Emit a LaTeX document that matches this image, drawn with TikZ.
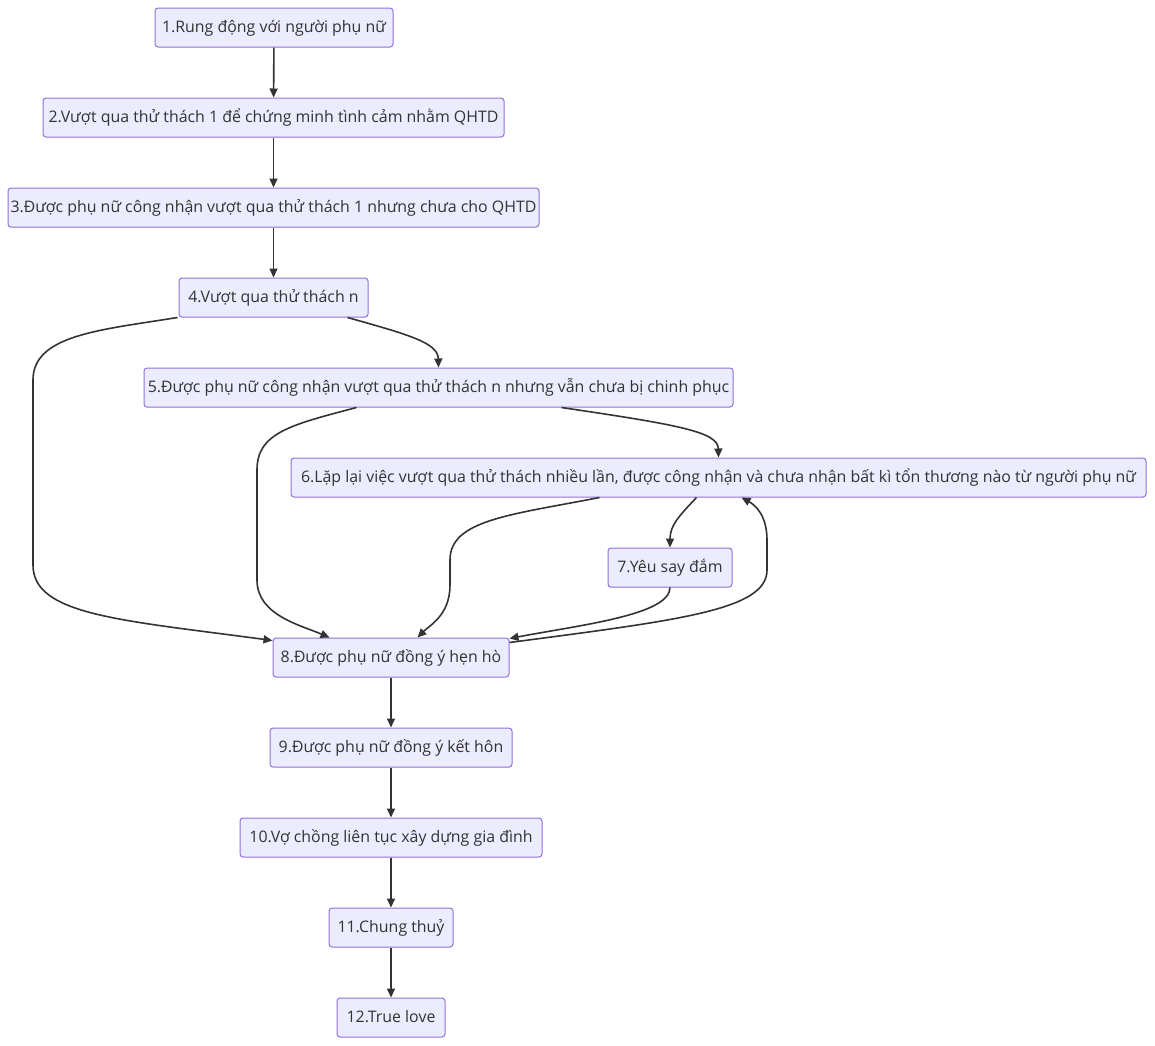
\documentclass[tikz,border=0pt]{standalone}
\usepackage{fontspec}
\setmainfont{Open Sans}
\usetikzlibrary{arrows.meta}
\definecolor{nodefill}{HTML}{ECECFF}
\definecolor{nodeline}{HTML}{9370DB}
\definecolor{edgecol}{HTML}{333333}
\tikzset{
  box/.style={draw=nodeline, fill=nodefill, line width=1pt, rounded corners=3pt,
    minimum height=39pt, inner sep=0pt, text height=13pt, text depth=3pt,
    font=\fontsize{15.9}{18}\selectfont, text=edgecol},
  edge/.style={draw=edgecol, line width=1.6pt, -{Triangle[length=9pt,width=8pt]}},
}
\begin{document}
\begin{tikzpicture}[x=1pt,y=-1pt]
\useasboundingbox[fill=white] (0,0) rectangle (1155,1045);
\node[box, minimum width=238pt] (n1) at (274,27.5) {1.Rung động với người phụ nữ};
\node[box, minimum width=461pt] (n2) at (273.5,117.5) {2.Vượt qua thử thách 1 để chứng minh tình cảm nhằm QHTD};
\node[box, minimum width=531pt] (n3) at (273.5,207.5) {3.Được phụ nữ công nhận vượt qua thử thách 1 nhưng chưa cho QHTD};
\node[box, minimum width=189pt] (n4) at (273.5,297.5) {4.Vượt qua thử thách n};
\node[box, minimum width=589pt] (n5) at (438.5,387.5) {5.Được phụ nữ công nhận vượt qua thử thách n nhưng vẫn chưa bị chinh phục};
\node[box, minimum width=855pt] (n6) at (718.5,477.5) {6.Lặp lại việc vượt qua thử thách nhiều lần, được công nhận và chưa nhận bất kì tổn thương nào từ người phụ nữ};
\node[box, minimum width=124pt] (n7) at (670,567.5) {7.Yêu say đắm};
\node[box, minimum width=236pt] (n8) at (391,657.5) {8.Được phụ nữ đồng ý hẹn hò};
\node[box, minimum width=242pt] (n9) at (391,747.5) {9.Được phụ nữ đồng ý kết hôn};
\node[box, minimum width=302pt] (n10) at (391,837.5) {10.Vợ chồng liên tục xây dựng gia đình};
\node[box, minimum width=124pt] (n11) at (391,927.5) {11.Chung thuỷ};
\node[box, minimum width=108pt] (n12) at (391,1017.5) {12.True love};

\draw[edge] (n1) -- (n2);
\draw[edge] (n2) -- (n3);
\draw[edge] (n3) -- (n4);
\draw[edge] (n8) -- (n9);
\draw[edge] (n9) -- (n10);
\draw[edge] (n10) -- (n11);
\draw[edge] (n11) -- (n12);

% 4 -> 5
\draw[edge] ([xshift=-21pt]n4.south east) .. controls (410,335) and (438,343) .. (n5.north);
% 4 -> 8
\draw[edge] ([xshift=-1pt]n4.south west) .. controls (100,330) and (33,335) .. (33,380)
  -- (33,565) .. controls (33,615) and (120,620) .. ([yshift=-3pt]n8.north west);
% 5 -> 6
\draw[edge] ([xshift=418pt]n5.south west) .. controls (680,425) and (718,432) .. (n6.north);
% 5 -> 8
\draw[edge] ([xshift=213pt]n5.south west) .. controls (290,425) and (257,433) .. (257,470)
  -- (257,580) .. controls (257,615) and (300,625) .. ([xshift=57pt]n8.north west);
% 6 -> 8
\draw[edge] ([xshift=309pt]n6.south west) .. controls (510,515) and (450,520) .. (450,560)
  -- (450,585) .. controls (450,615) and (430,625) .. ([xshift=145pt]n8.north west);
% 6 -> 7
\draw[edge] ([xshift=406pt]n6.south west) .. controls (680,515) and (670,525) .. (n7.north);
% 7 -> 8
\draw[edge] (n7.south) .. controls (670,615) and (580,625) .. ([yshift=-1pt]n8.north east);
% 8 -> 6
\draw[edge] ([yshift=-5pt]n8.north east) .. controls (680,620) and (767,610) .. (767,570)
  -- (767,540) .. controls (767,515) and (755,505) .. ([xshift=451pt]n6.south west);
\end{tikzpicture}
\end{document}
